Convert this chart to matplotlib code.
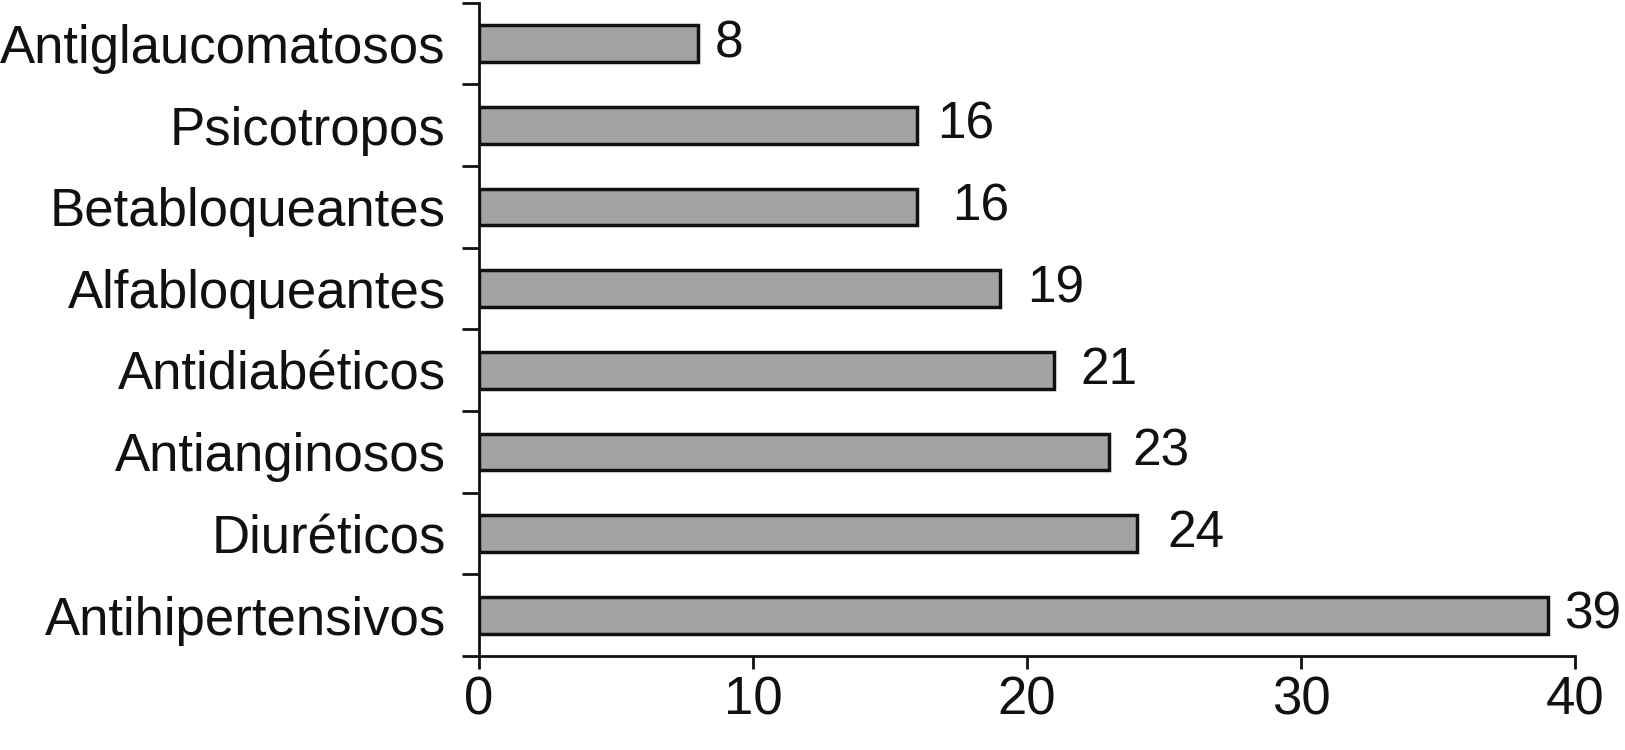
import matplotlib.pyplot as plt
import numpy as np

plt.rcParams['font.family'] = ['Liberation Sans', 'DejaVu Sans']

categorias = ['Antihipertensivos', 'Diuréticos', 'Antianginosos', 'Antidiabéticos',
              'Alfabloqueantes', 'Betabloqueantes', 'Psicotropos', 'Antiglaucomatosos']
valores = [39, 24, 23, 21, 19, 16, 16, 8]
# distance of each value label from the bar end (points)
pads = [12, 22, 17, 19, 20, 25, 14, 12]

fig = plt.figure(figsize=(16.25, 7.5), dpi=100)
ax = fig.add_axes([0.2948, 0.1253, 0.6744, 0.871])

y = np.arange(len(categorias))
ax.barh(y, valores, height=0.45, color='#a3a3a3', edgecolor='#111111', linewidth=2.5)

for yi, v, p in zip(y, valores, pads):
    ax.annotate(str(v), (v, yi), xytext=(p, 0), textcoords='offset points',
                va='center', ha='left', fontsize=37, color='#111111')

ax.set_xlim(0, 40)
ax.set_ylim(-0.5, len(categorias) - 0.5)
ax.set_xticks([0, 10, 20, 30, 40])
ax.set_yticks(np.arange(-0.5, len(categorias), 1.0))
ax.set_yticklabels([])
ax.set_yticks(y, minor=True)
ax.set_yticklabels(categorias, minor=True)

for s in ['top', 'right']:
    ax.spines[s].set_visible(False)
for s in ['left', 'bottom']:
    ax.spines[s].set_linewidth(2.0)
    ax.spines[s].set_color('#111111')

ax.tick_params(axis='x', which='major', length=9, width=2.0, pad=5,
               labelsize=38, colors='#111111')
ax.tick_params(axis='y', which='major', length=12, width=2.0, colors='#111111')
ax.tick_params(axis='y', which='minor', length=0, pad=24, labelsize=38, colors='#111111')

fig.savefig('out.png', dpi=100)
